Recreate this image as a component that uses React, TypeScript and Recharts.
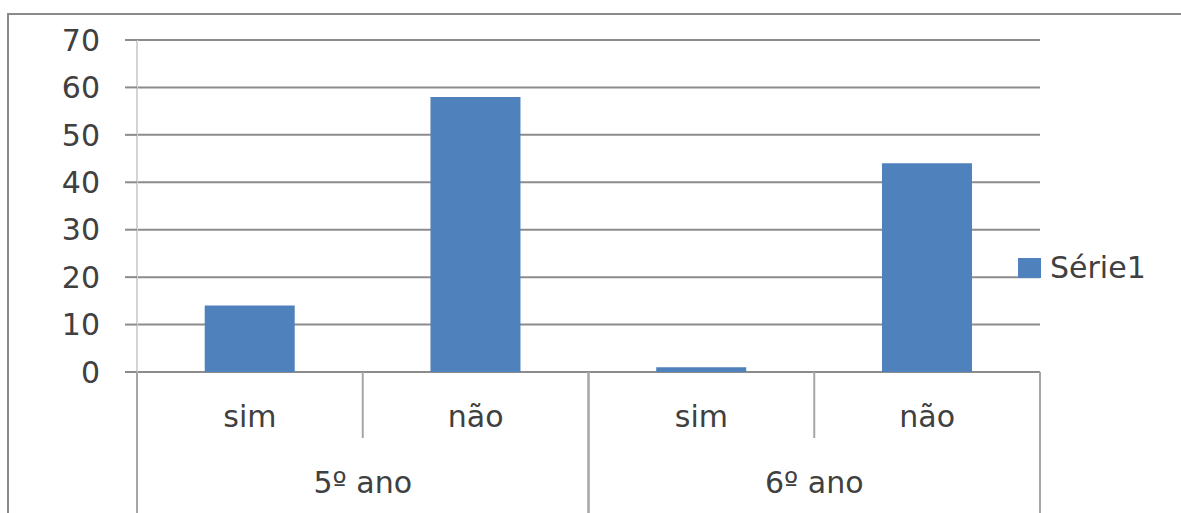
import React from 'react';
import { BarChart, Bar, XAxis, YAxis, CartesianGrid, Legend } from 'recharts';

const categories = ['sim', 'não', 'sim', 'não'];
const groups = ['5º ano', '5º ano', '6º ano', '6º ano'];
const values = [14, 58, 1, 44];
const yTicks = [0, 10, 20, 30, 40, 50, 60, 70];
const seriesName = 'Série1';

const data = categories.map((c, i) => ({ cat: c, group: groups[i], value: values[i] }));

const W = 1181;
const H = 513;
const M = { top: 40, right: 141, left: 0, bottom: 0 };
const Y_W = 137;
const X1_H = 66;
const X2_H = 75;
const PLOT_L = M.left + Y_W;
const PLOT_W = W - M.right - PLOT_L;
const PLOT_B = H - M.bottom - X1_H - X2_H;
const FONT = '"DejaVu Sans", sans-serif';
const FS = 30;
const TXT = '#404040';
const SEP = '#a6a6a6';
const BAR = '#4F81BD';

const MainTick = (props: any) => {
  const { x, payload, index } = props;
  const half = PLOT_W / categories.length / 2;
  return (
    <g>
      {index % 2 === 1 && (
        <line x1={x - half} x2={x - half} y1={PLOT_B} y2={PLOT_B + X1_H} stroke={SEP} strokeWidth={2} />
      )}
      <text x={x} y={PLOT_B + 55} textAnchor="middle" fontFamily={FONT} fontSize={FS} fill={TXT}>
        {payload.value}
      </text>
    </g>
  );
};

const GroupTick = (props: any) => {
  const { x, payload } = props;
  const nGroups = Array.from(new Set(groups)).length;
  const half = PLOT_W / nGroups / 2;
  return (
    <g>
      <line x1={x - half} x2={x - half} y1={PLOT_B} y2={H + 20} stroke={SEP} strokeWidth={2} />
      <line x1={x + half} x2={x + half} y1={PLOT_B} y2={H + 20} stroke={SEP} strokeWidth={2} />
      <text x={x} y={PLOT_B + 121} textAnchor="middle" fontFamily={FONT} fontSize={FS} fill={TXT}>
        {payload.value}
      </text>
    </g>
  );
};

const LegendContent = () => (
  <div style={{ display: 'flex', alignItems: 'center', whiteSpace: 'nowrap', fontFamily: FONT, fontSize: FS, color: TXT, width: 160 }}>
    <span style={{ display: 'inline-block', flexShrink: 0, width: 23, height: 20, background: BAR, marginRight: 9 }} />
    <span>{seriesName}</span>
  </div>
);

export default function App() {
  return (
    <div style={{ position: 'absolute', left: 0, top: 0, width: W, height: H, overflow: 'hidden', background: '#fff' }}>
      <div
        style={{
          position: 'absolute',
          left: 7,
          top: 13,
          width: 1400,
          height: 800,
          border: '2px solid #8a8a8a',
          boxSizing: 'border-box',
        }}
      />
      <div style={{ position: 'absolute', left: 0, top: 0 }}>
        <BarChart width={W} height={H} data={data} margin={M} barCategoryGap="30%">
          <CartesianGrid vertical={false} stroke="#8c8c8c" strokeWidth={2} />
          <XAxis
            xAxisId="main"
            dataKey="cat"
            height={X1_H}
            interval={0}
            tickLine={false}
            axisLine={false}
            tick={<MainTick />}
          />
          <XAxis
            xAxisId="grp"
            dataKey="group"
            allowDuplicatedCategory={false}
            height={X2_H}
            interval={0}
            tickLine={false}
            axisLine={false}
            tick={<GroupTick />}
          />
          <YAxis
            width={Y_W}
            domain={[0, 70]}
            ticks={yTicks}
            interval={0}
            tickSize={12}
            tickMargin={25}
            axisLine={{ stroke: '#d4d4d4', strokeWidth: 2 }}
            tickLine={{ stroke: '#8c8c8c', strokeWidth: 2 }}
            tick={{ fontFamily: FONT, fontSize: FS, fill: TXT }}
          />
          <Bar xAxisId="main" dataKey="value" name={seriesName} fill={BAR} isAnimationActive={false} />
          <Legend
            content={<LegendContent />}
            layout="vertical"
            align="right"
            verticalAlign="middle"
            wrapperStyle={{ left: 1018, top: 250, right: 'auto', bottom: 'auto', width: 0 }}
          />
        </BarChart>
      </div>
    </div>
  );
}
